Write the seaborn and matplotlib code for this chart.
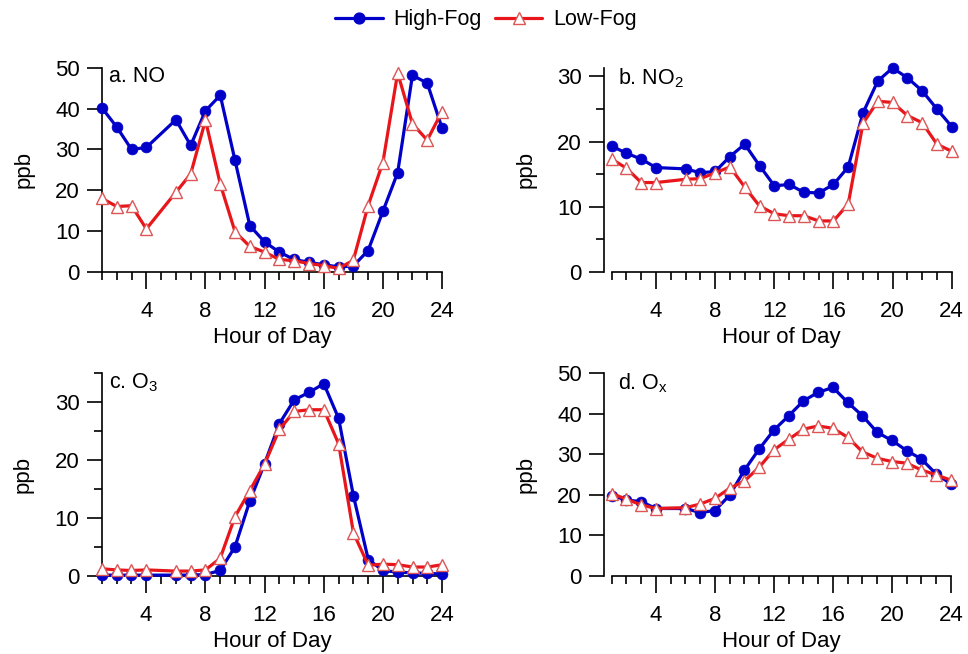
import numpy as np
import pandas as pd
import matplotlib
matplotlib.use("Agg")
import matplotlib.pyplot as plt
import seaborn as sns
from matplotlib.lines import Line2D
from matplotlib.ticker import MultipleLocator, FixedLocator

sns.set_style("ticks")
plt.rcParams['font.family'] = ['Liberation Sans', 'DejaVu Sans']
plt.rcParams['mathtext.fontset'] = 'custom'
plt.rcParams['mathtext.rm'] = 'Liberation Sans'
plt.rcParams['mathtext.it'] = 'Liberation Sans'
for k in ['text.color', 'axes.labelcolor', 'xtick.color', 'ytick.color', 'axes.edgecolor']:
    plt.rcParams[k] = 'black'

hours = [1, 2, 3, 4, 6, 7, 8, 9, 10, 11, 12, 13, 14, 15, 16, 17, 18, 19, 20, 21, 22, 23, 24]

no_high = [40.2, 35.5, 30.0, 30.5, 37.3, 31.0, 39.5, 43.3, 27.3, 11.3, 7.3, 4.8, 3.0, 2.3, 1.7, 1.2, 1.4, 5.2, 14.8, 24.3, 48.2, 46.3, 35.3]
no_low = [18.0, 16.0, 16.2, 10.5, 19.5, 24.0, 37.2, 21.5, 9.8, 6.2, 4.8, 3.0, 2.7, 2.0, 1.5, 0.8, 2.8, 16.2, 26.8, 48.8, 36.3, 32.3, 39.3]

no2_high = [19.3, 18.2, 17.3, 16.0, 15.8, 15.2, 15.4, 17.7, 19.6, 16.3, 13.2, 13.4, 12.2, 12.1, 13.4, 16.1, 24.4, 29.3, 31.3, 29.8, 27.8, 25.0, 22.3]
no2_low = [17.3, 15.9, 13.7, 13.7, 14.2, 14.3, 15.2, 16.1, 13.0, 10.1, 8.9, 8.6, 8.6, 7.8, 7.8, 10.4, 22.8, 26.2, 26.0, 24.0, 22.9, 19.6, 18.5]

o3_high = [0.1, 0.1, 0.1, 0.1, 0.1, 0.1, 0.2, 0.9, 5.0, 12.9, 19.4, 26.3, 30.4, 31.7, 33.2, 27.2, 13.8, 2.8, 0.9, 0.6, 0.5, 0.4, 0.3]
o3_low = [1.2, 1.0, 0.9, 1.0, 0.8, 0.8, 1.0, 3.0, 10.2, 14.7, 19.3, 25.3, 28.4, 28.7, 28.7, 22.8, 7.4, 1.8, 2.0, 1.9, 1.5, 1.5, 1.9]

ox_high = [19.8, 18.7, 18.3, 16.6, 16.6, 15.6, 16.1, 19.9, 26.1, 31.3, 36.0, 39.5, 43.2, 45.3, 46.5, 42.8, 39.5, 35.4, 33.4, 30.9, 28.8, 25.1, 22.7]
ox_low = [20.3, 18.9, 17.5, 16.6, 16.8, 17.7, 19.1, 21.6, 23.4, 26.8, 31.1, 33.7, 36.2, 37.0, 36.4, 34.2, 30.6, 29.0, 28.2, 27.8, 26.1, 24.9, 23.6]

groups = ["High-Fog", "Low-Fog"]
panel_labels = ["a. NO", r"b. NO$_\mathregular{2}$", r"c. O$_\mathregular{3}$", r"d. O$_\mathregular{x}$"]
ymaxes = [50, 31.3, 35, 50]
yminor = [None, 5, 5, None]

BLUE = "#0000C8"
RED = "#E8161B"
RED_EDGE = "#DD5555"

W, H = 968, 654
fig = plt.figure(figsize=(W / 100, H / 100), dpi=100)

# pixel boxes: (left, right, bottom, top)
boxes = [(102, 442, 271.7, 68), (611.7, 951.7, 271.7, 68),
         (101.7, 442.3, 575.7, 373.3), (611.7, 951, 575.7, 373.3)]
offsets = [0, 5.5, 0, 5.5]

series = [(no_high, no_low), (no2_high, no2_low), (o3_high, o3_low), (ox_high, ox_low)]

for i, (hi, lo) in enumerate(series):
    l, r, b, t = boxes[i]
    ax = fig.add_axes([l / W, (H - b) / H, (r - l) / W, (b - t) / H])
    df = pd.DataFrame({"hour": hours * 2, "ppb": hi + lo,
                       "group": [groups[0]] * len(hours) + [groups[1]] * len(hours)})
    dh = df[df.group == groups[0]]
    dl = df[df.group == groups[1]]
    sns.lineplot(data=dh, x="hour", y="ppb", ax=ax, color=BLUE, lw=2.3,
                 marker="o", markersize=7.8, markeredgecolor=BLUE, markerfacecolor=BLUE,
                 markeredgewidth=0.5, legend=False, clip_on=False, zorder=3)
    sns.lineplot(data=dl, x="hour", y="ppb", ax=ax, color=RED, lw=2.3,
                 marker="^", markersize=8.5, markeredgecolor=RED_EDGE, markerfacecolor="white",
                 markeredgewidth=1.0, legend=False, clip_on=False, zorder=4)
    ax.set_xlim(1, 24)
    ax.set_ylim(0, ymaxes[i])
    ax.xaxis.set_major_locator(FixedLocator([4, 8, 12, 16, 20, 24]))
    ax.xaxis.set_minor_locator(MultipleLocator(1))
    ax.yaxis.set_major_locator(MultipleLocator(10))
    if yminor[i]:
        ax.yaxis.set_minor_locator(MultipleLocator(yminor[i]))
    ax.tick_params(axis="x", which="major", length=12, width=1.2, labelsize=16, pad=9, color="black")
    ax.tick_params(axis="x", which="minor", length=6, width=1.2, color="black")
    ax.tick_params(axis="y", which="major", length=11, width=1.2, labelsize=16, pad=5, color="black")
    ax.tick_params(axis="y", which="minor", length=6, width=1.2, color="black")
    for s in ["top", "right"]:
        ax.spines[s].set_visible(False)
    for s in ["left", "bottom"]:
        ax.spines[s].set_linewidth(1.2)
        ax.spines[s].set_color("black")
    if offsets[i]:
        ax.spines["left"].set_position(("outward", offsets[i]))
    ax.set_xlabel("Hour of Day", fontsize=16, labelpad=4)
    ax.set_ylabel("ppb", fontsize=16, labelpad=15)
    ax.text(0.02, 1.01, panel_labels[i], transform=ax.transAxes, fontsize=15.5,
            va="top", ha="left")

handles = [Line2D([], [], color=BLUE, lw=2.3, marker="o", markersize=7.8,
                  markeredgecolor=BLUE, markerfacecolor=BLUE),
           Line2D([], [], color=RED, lw=2.3, marker="^", markersize=9,
                  markeredgecolor=RED_EDGE, markerfacecolor="white")]
fig.legend(handles, groups, loc="center", bbox_to_anchor=(486 / W, 1 - 20 / H), ncol=2,
           frameon=False, fontsize=15.5, handlelength=2.2, columnspacing=0.6, handletextpad=0.5)

fig.savefig("out.png", dpi=100)
